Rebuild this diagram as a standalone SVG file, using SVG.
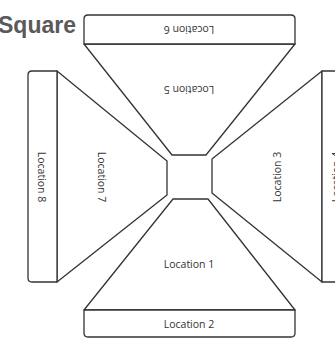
<svg xmlns="http://www.w3.org/2000/svg" width="335" height="338" viewBox="0 0 335 338">
<style>
.s{fill:#fff;stroke:#333;stroke-width:1.3;stroke-linejoin:round}
.t{font-family:"Open Sans","Liberation Sans",sans-serif;font-size:10.5px;fill:#333;text-anchor:middle}
.title{font-family:"Liberation Sans",Arial,sans-serif;font-weight:bold;font-size:23px;fill:#5a5a5a;text-anchor:end}
</style>
<rect width="335" height="338" fill="#fff"/>
<text class="title" x="76" y="33">Square</text>
<g id="location5">
<path class="s" d="M84,44 L295,44 L206,155 L172,155 Z"/>
<text class="t" transform="translate(189,90) rotate(180)" y="3.7">Location 5</text>
</g>
<g id="location6">
<path class="s" d="M84,44 V19 Q84,15 88,15 H291 Q295,15 295,19 V44 Z"/>
<text class="t" transform="translate(189,30) rotate(180)" y="3.7">Location 6</text>
</g>
<g id="location7">
<path class="s" d="M57,71 L167,161 L167,195 L57,282 Z"/>
<text class="t" transform="translate(102,177) rotate(90)" y="3.7">Location 7</text>
</g>
<g id="location8">
<path class="s" d="M57,71 H32 Q28,71 28,75 V278 Q28,282 32,282 H57 Z"/>
<text class="t" transform="translate(42,177) rotate(90)" y="3.7">Location 8</text>
</g>
<g id="location3">
<path class="s" d="M322,71 L212,159 L212,193 L322,282 Z"/>
<text class="t" transform="translate(277,177) rotate(-90)" y="3.7">Location 3</text>
</g>
<g id="location4">
<path class="s" d="M322,71 H347 Q351,71 351,75 V278 Q351,282 347,282 H322 Z"/>
<text class="t" transform="translate(336,177) rotate(-90)" y="3.7">Location 4</text>
</g>
<g id="location1">
<path class="s" d="M173,199 L208,199 L295,310 L84,310 Z"/>
<text class="t" x="189" y="268">Location 1</text>
</g>
<g id="location2">
<path class="s" d="M84,310 H295 V333 Q295,337 291,337 H88 Q84,337 84,333 Z"/>
<text class="t" x="189" y="328">Location 2</text>
</g>
<g id="connectors"></g>
</svg>
